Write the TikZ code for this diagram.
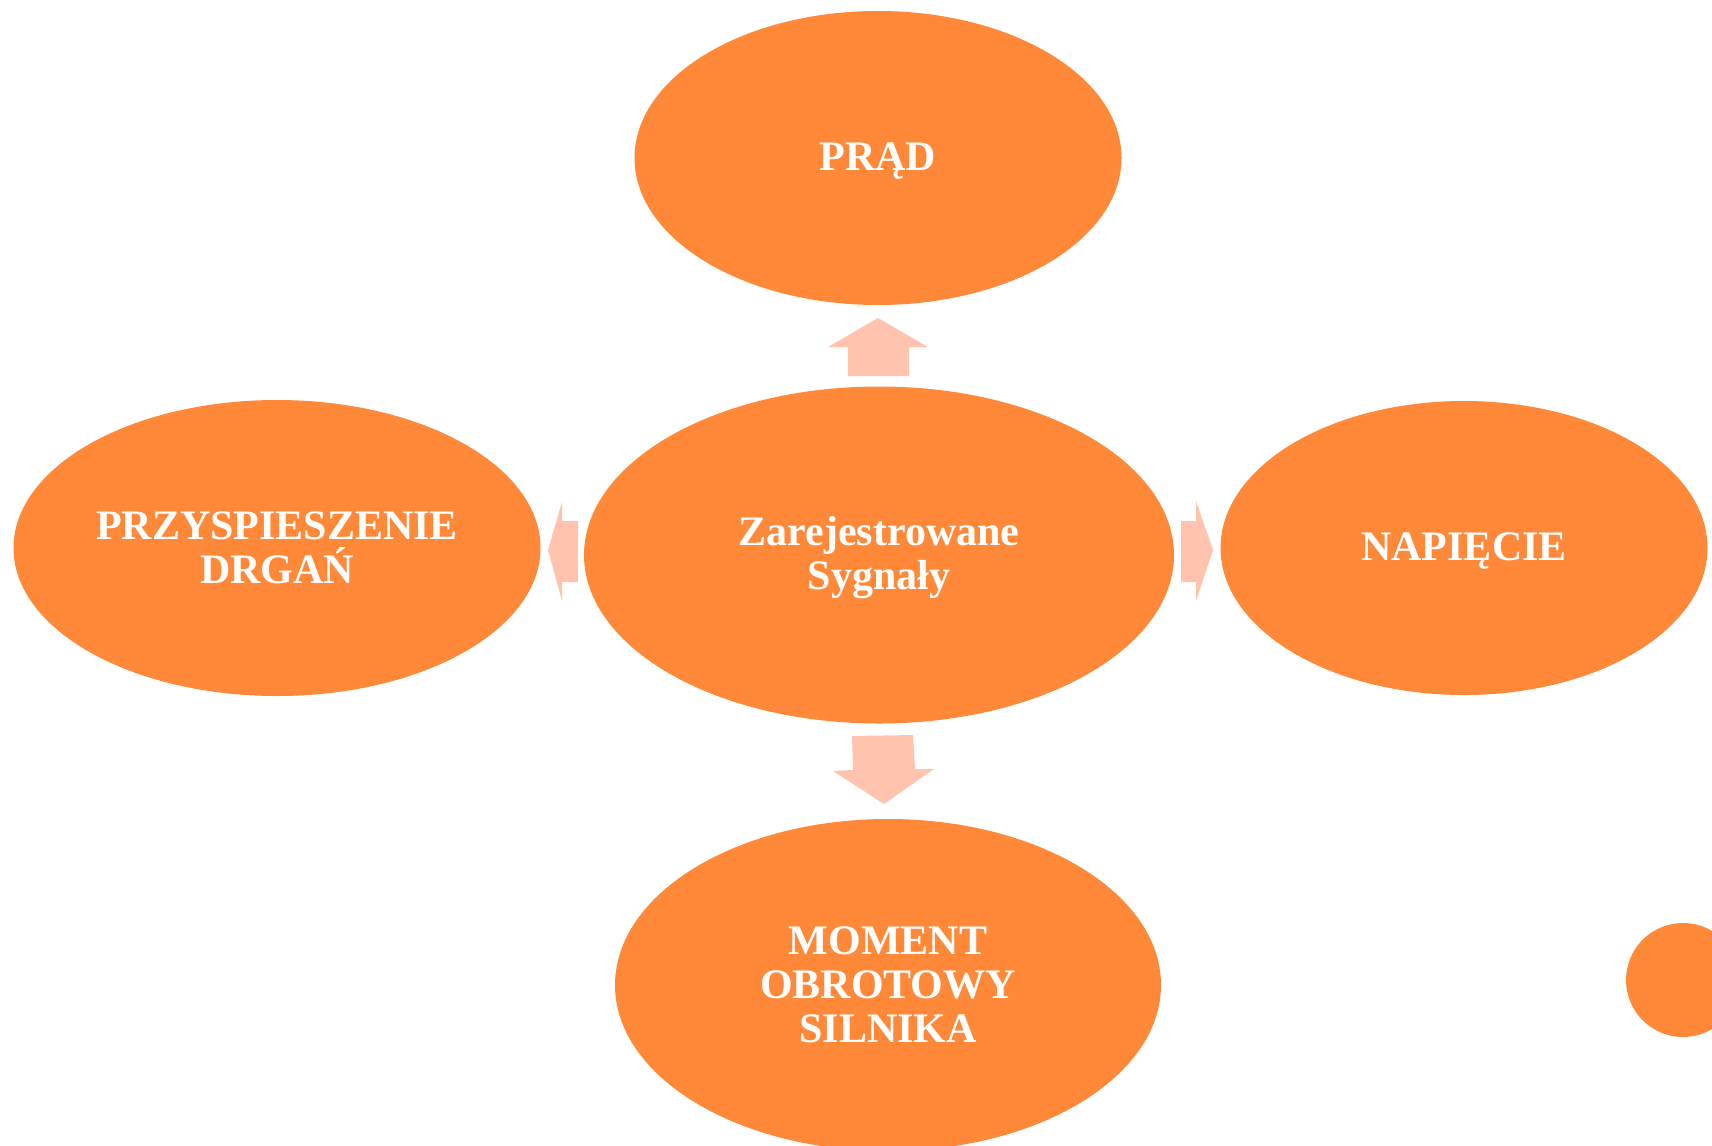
\documentclass[tikz,border=0pt]{standalone}
\usepackage{fontspec}
\setmainfont{Liberation Serif}
\usepackage{tikz}
\usetikzlibrary{shapes.geometric}
\definecolor{bubbleorange}{RGB}{255,137,56}
\definecolor{arrowpink}{RGB}{255,195,174}
\tikzstyle{bubble} = [ellipse, fill=bubbleorange, draw=none,
	inner sep=0pt, outer sep=0pt,
	text=white, align=center,
	font=\fontsize{42}{44}\selectfont\bfseries]
\tikzstyle{blockarrow} = [fill=arrowpink, draw=none]

\begin{document}
\begin{tikzpicture}[x=1pt, y=-1pt]
			\useasboundingbox (0,0) rectangle (1712,1145);
			\clip (0,0) rectangle (1712,1145);
			
			\node (prad) [bubble, minimum width=487, minimum height=294] at (878,158) {};
			\node at (prad.center) [yshift=-3pt, text=white, font=\fontsize{42}{44}\selectfont\bfseries] {PRĄD};
			\node (sygnaly) [bubble, minimum width=590, minimum height=337] at (879,555) {};
			\node at (sygnaly.center) [yshift=-3pt, text=white, align=center, font=\fontsize{42}{44}\selectfont\bfseries] {Zarejestrowane\\Sygnały};
			\node (drgan) [bubble, minimum width=527, minimum height=296] at (277,548) {PRZYSPIESZENIE\\DRGAŃ};
			\node (napiecie) [bubble, minimum width=487, minimum height=294] at (1464,548) {};
			\node at (napiecie.center) [yshift=-3pt, text=white, font=\fontsize{42}{44}\selectfont\bfseries] {NAPIĘCIE};
			\node (moment) [bubble, minimum width=546, minimum height=332] at (888,985) {MOMENT\\OBROTOWY\\SILNIKA};
			\node (kropka) [bubble, circle, minimum size=114] at (1683,980) {};
			
			% strzalki blokowe
			\fill [blockarrow] (848,376) -- (848,347) -- (828,347) -- (878,318) -- (928,347) -- (909,347) -- (909,376) -- cycle;
			\fill [blockarrow] (852,736) -- (913,735) -- (915,769) -- (934,769) -- (884,804) -- (833,771) -- (853,770) -- cycle;
			\fill [blockarrow] (578,521) -- (562,521) -- (562,502) -- (548,550) -- (562,601) -- (562,582) -- (578,582) -- cycle;
			\fill [blockarrow] (1181,521) -- (1196,521) -- (1196,501) -- (1213,550) -- (1196,601) -- (1196,582) -- (1181,582) -- cycle;
		\end{tikzpicture}
\end{document}
